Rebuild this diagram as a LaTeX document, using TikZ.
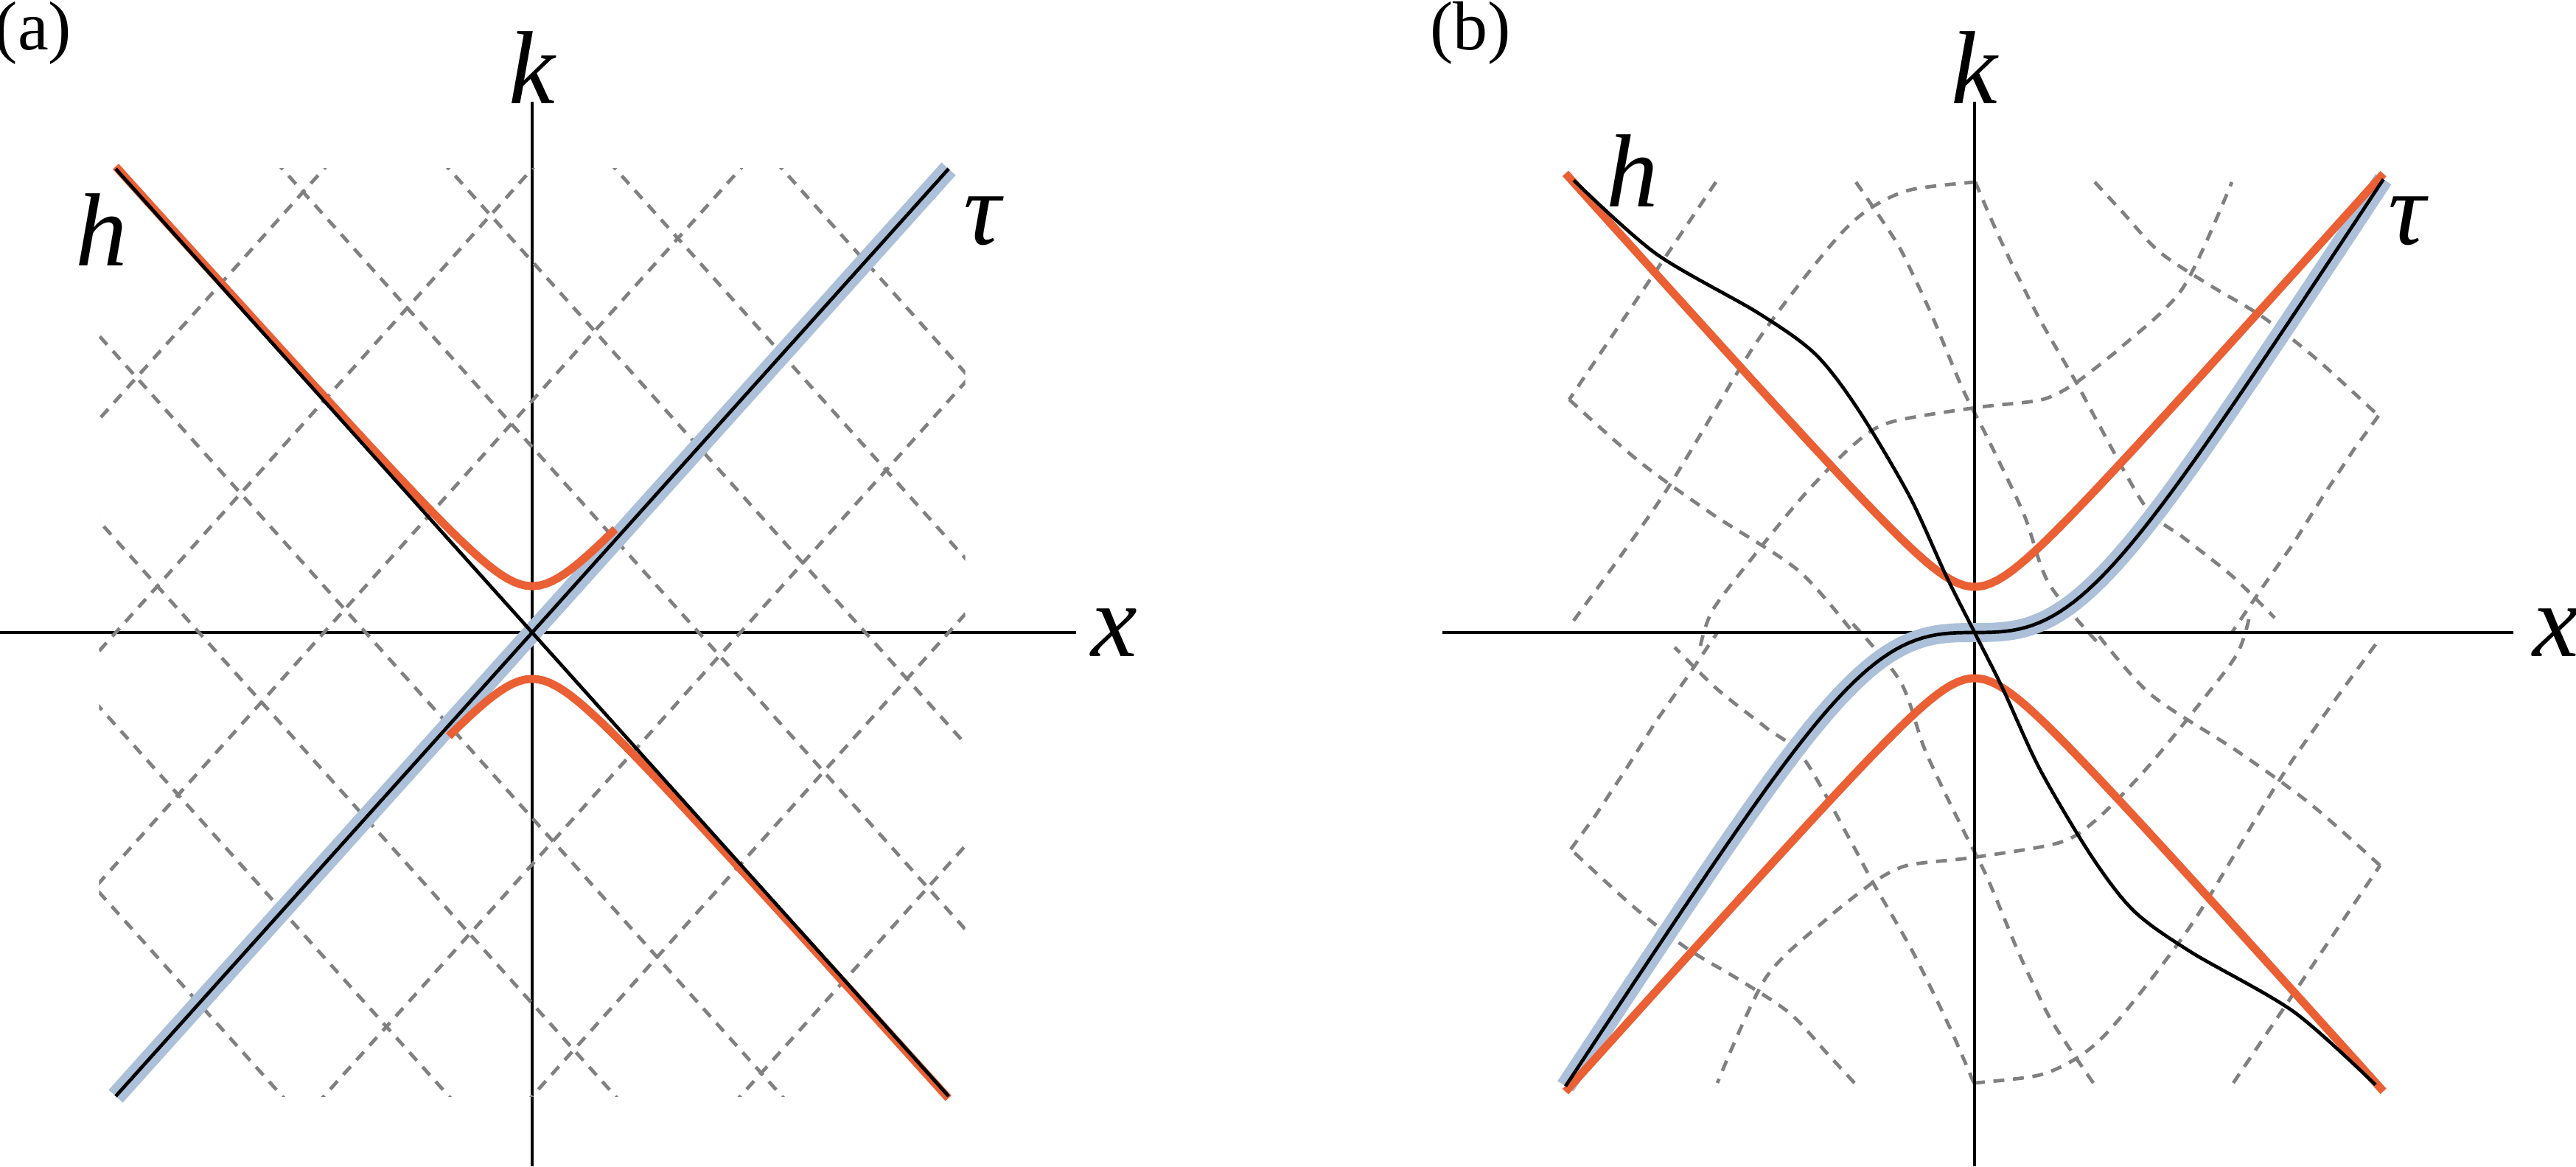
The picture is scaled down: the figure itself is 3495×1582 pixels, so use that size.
\documentclass[tikz,border=0pt]{standalone}
\usepackage{fontspec}
\setmainfont{Liberation Serif}
\usepackage{tikz}
\usetikzlibrary{positioning}

\definecolor{hypred}{RGB}{234,96,52}
\definecolor{taublue}{RGB}{172,192,218}

\tikzset{
    axis/.style={black, line width=0.6pt},
    grid/.style={black!50, line width=0.6pt, dash pattern=on 1.9pt off 1.5pt},
    thin curve/.style={black, line width=0.6pt},
    halo/.style={taublue, line width=3.3pt},
    hyp/.style={hypred, line width=1.4pt},
    lbl/.style={font=\fontsize{18}{20}\selectfont\itshape},
    tag/.style={font=\fontsize{12}{14}\selectfont}
}

% half of the bent grid of panel (b), in pixels
\newcommand{\halfgrid}{
    \draw[grid] (2328,247) -- (2129,542);
    \draw[grid] plot[smooth] coordinates {(2129,542) (2224,626) (2324,698) (2440,774) (2514,858)};
    \draw[grid] plot[smooth] coordinates {(2680,247) (2590,258) (2531,287) (2481,336) (2382,466) (2257,671) (2129,850)};
    \draw[grid] plot[smooth] coordinates {(2518,247) (2572,327) (2597,376) (2622,430) (2663,528) (2697,595) (2746,698) (2780,792) (2850,876)};
    \draw[grid] plot[smooth] coordinates {(2307,876) (2324,827) (2382,751) (2448,671) (2514,604) (2564,573) (2680,553) (2771,542) (2817,519)};
    \draw[grid] plot[smooth] coordinates {(2817,519) (2879,470) (2962,390) (3028,247)};
    \draw[grid] plot[smooth] coordinates {(2680,247) (2713,323) (2763,425) (2817,519) (2846,573) (2912,689) (2962,729) (3028,781) (3086,838)};
    \draw[grid] plot[smooth] coordinates {(2842,247) (2879,287) (2929,341) (2995,385) (3070,430) (3144,488) (3227,564)};
    \draw[grid] (3227,564) -- (3194,609) -- (3153,671) -- (3111,738) -- (3070,796) -- (3028,858);
}

\begin{document}
\begin{tikzpicture}[x=0.004486cm, y=-0.004486cm,
    declare function={g(\s)=1.36*(\s-0.27*tanh(\s/0.27));}]
    \useasboundingbox (0,0) rectangle (3495,1582);

    % panel (a)
    \node[tag] (taga) at (45,45) {(a)};
    \draw[axis] (0,858) -- (1460,858);
    \draw[axis] (722,138) -- (722,1582);
    \node[lbl] (ka) at (722,92) {k};
    \node[lbl] (xa) at (1512,858) {x};
    \node[lbl] (ha) at (138,312) {h};
    \node[lbl] (taua) at (1333,300) {τ};
    \begin{scope}[shift={(3.239cm,-3.849cm)}, x=2.5346cm, y=2.8217cm]
        \begin{scope}
            \clip (-1.04,-1) rectangle (1.04,1);
            \foreach \c in {-1.6,-1.2,-0.8,-0.4,0.4,0.8,1.2,1.6}
                \draw[grid] (\c-1.3,1.3) -- (\c+1.3,-1.3);
            \foreach \c in {-1.5,-1.0,-0.5,0.5,1.0,1.5}
                \draw[grid] (\c-1.3,-1.3) -- (\c+1.3,1.3);
        \end{scope}
        \draw[halo] (-1,-1) -- (1,1);
        \draw[hyp] plot[domain=-1:0.2, samples=80] (\x,{sqrt(\x*\x+0.01)});
        \draw[hyp] plot[domain=-0.2:1, samples=80] (\x,{-sqrt(\x*\x+0.01)});
        \draw[thin curve] (-1,-1) -- (1,1);
        \draw[thin curve] (-1,1) -- (1,-1);
    \end{scope}

    % panel (b)
    \node[tag] (tagb) at (1995,45) {(b)};
    \halfgrid
    \begin{scope}[rotate around={180:(2679,858)}]
        \halfgrid
    \end{scope}
    \draw[axis] (1957,858) -- (3410,858);
    \draw[axis] (2679,138) -- (2679,1582);
    \node[lbl] (kb) at (2679,92) {k};
    \node[lbl] (xb) at (3468,858) {x};
    \node[lbl] (hb) at (2215,232) {h};
    \node[lbl] (taub) at (3266,300) {τ};
    \begin{scope}[shift={(12.018cm,-3.849cm)}, x=2.49cm, y=2.78cm]
        \draw[halo] plot[domain=-1:1, samples=120] (\x,{g(\x)});
        \draw[hyp] plot[domain=-1:1, samples=120] (\x,{sqrt(\x*\x+0.01)});
        \draw[hyp] plot[domain=-1:1, samples=120] (\x,{-sqrt(\x*\x+0.01)});
        \draw[thin curve] plot[domain=-1:1, samples=120] (\x,{g(\x)});
        \draw[thin curve] plot[smooth] coordinates {(-0.98,0.99) (-0.78,0.83) (-0.53,0.70)
            (-0.39,0.61) (-0.286,0.49) (-0.16,0.30) (-0.07,0.125) (0,0) (0.07,-0.125)
            (0.16,-0.30) (0.286,-0.49) (0.39,-0.61) (0.53,-0.70) (0.78,-0.83) (0.98,-0.99)};
    \end{scope}
\end{tikzpicture}
\end{document}
